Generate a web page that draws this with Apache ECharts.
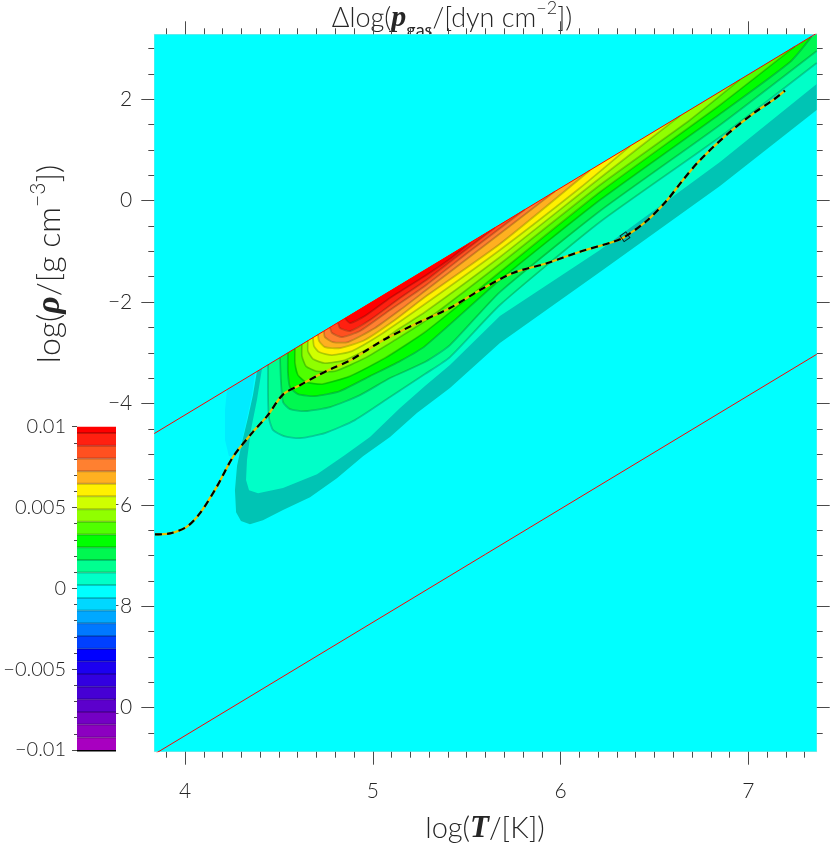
<!DOCTYPE html>
<html>
<head>
<meta charset="utf-8">
<script src="https://cdn.jsdelivr.net/npm/echarts@6/dist/echarts.min.js"></script>
<style>
html, body { margin: 0; padding: 0; background: #fff; }
#chart { width: 830px; height: 844px; }
</style>
</head>
<body>
<div id="chart"></div>
<script>
// frame of the plot, in log T and log rho
const tRange = [3.8365, 7.364]
const rhoRange = [-10.87, 3.283]
const tMajor = [4, 5, 6, 7]
const tMinor = [3.9, 4.0, 4.1, 4.2, 4.3, 4.4, 4.5, 4.6, 4.7, 4.8, 4.9, 5.0, 5.1, 5.2, 5.3, 5.4, 5.5, 5.6,
  5.7, 5.8, 5.9, 6.0, 6.1, 6.2, 6.3, 6.4, 6.5, 6.6, 6.7, 6.8, 6.9, 7.0, 7.1, 7.2, 7.3]
const rhoMajor = [-10, -8, -6, -4, -2, 0, 2]
const rhoMinor = [-10.5, -10, -9.5, -9, -8.5, -8, -7.5, -7, -6.5, -6, -5.5, -5, -4.5, -4, -3.5, -3,
  -2.5, -2, -1.5, -1, -0.5, 0, 0.5, 1, 1.5, 2, 2.5, 3]

// colour bar levels (bottom black strip first) and their colours
const cbLevels = [-0.0101, -0.01, -0.00922, -0.00843, -0.00765, -0.00686, -0.00608, -0.0053, -0.00451,
  -0.00373, -0.00294, -0.00216, -0.00137, -0.00059, 0.0002, 0.00098, 0.00176, 0.00255, 0.00333,
  0.00412, 0.0049, 0.00569, 0.00647, 0.00725, 0.00804, 0.00882, 0.00961, 0.01]
const cbColors = ['#000000', '#a800c0', '#8c00c0', '#7400c4', '#5c00cc', '#4600d4', '#3200e0', '#1c00f0',
  '#0000ff', '#0040ff', '#0078ff', '#00a8ff', '#00d8ff', '#00ffff', '#00ffc8', '#00ff90', '#00f850',
  '#00ff00', '#50ff00', '#90ff00', '#d0ff00', '#fff000', '#ffb020', '#ff8030', '#ff5020', '#ff2010', '#ff0000']

// the two red lines
const upperLine = [[3.8365, -4.593], [7.364, 3.304]]
const lowerLine = [[3.8365, -10.92], [7.364, -3.03]]

// the dashed track and its marked point
const trackT = [3.840, 3.920, 4.009, 4.080, 4.169, 4.256, 4.362, 4.435, 4.523, 4.612, 4.701, 4.788, 4.879,
  5.056, 5.234, 5.411, 5.571, 5.747, 5.926, 6.103, 6.281, 6.343, 6.458, 6.565, 6.650, 6.742, 6.884, 7.026, 7.133, 7.195]
const trackRho = [-6.584, -6.564, -6.434, -6.164, -5.645, -5.053, -4.560, -4.260, -3.820, -3.640, -3.460, -3.300, -3.150,
  -2.750, -2.420, -2.118, -1.763, -1.427, -1.235, -1.007, -0.809, -0.710, -0.400, 0.000, 0.400, 0.800, 1.300, 1.720, 1.990, 2.171]
const markPoint = [6.343, -0.710]

// filled contour regions of delta log p_gas, as [log T, log rho] outlines
const backgroundPath = [[3.8365, -10.87], [7.364, -10.87], [7.364, 3.283], [3.8365, 3.283]]
const lightBluePath = [[4.224, -3.726], [4.373, -3.393], [4.357, -3.835], [4.330, -4.289], [4.304, -4.723],
  [4.272, -5.019], [4.234, -5.039], [4.213, -4.723], [4.213, -4.131]]
const tealOuter = [[4.383, -3.369], [4.362, -3.835], [4.335, -4.289], [4.304, -4.762], [4.277, -5.236], [4.266, -5.710],
  [4.272, -6.144], [4.298, -6.321], [4.346, -6.381], [4.415, -6.302], [4.522, -6.104], [4.666, -5.848], [4.809, -5.473],
  [4.948, -5.039], [5.092, -4.664], [5.235, -4.190], [5.411, -3.697], [5.677, -2.808], [6.210, -1.407], [6.849, 0.290],
  [7.364, 1.790], [7.364, 3.283]]
const level13 = [[4.410, -3.309], [4.383, -3.933], [4.351, -4.525], [4.330, -5.118], [4.325, -5.512], [4.341, -5.710],
  [4.389, -5.769], [4.522, -5.670], [4.703, -5.394], [4.852, -5.019], [4.985, -4.664], [5.145, -4.091], [5.278, -3.657],
  [5.411, -3.243], [5.677, -2.276], [6.210, -0.973], [6.849, 0.764], [7.364, 2.303], [7.364, 3.283]]
const level14 = [[4.442, -3.237], [4.442, -3.835], [4.447, -4.289], [4.469, -4.525], [4.527, -4.644], [4.612, -4.683],
  [4.745, -4.585], [4.905, -4.328], [5.092, -3.874], [5.278, -3.420], [5.411, -3.085], [5.677, -2.058], [6.210, -0.420],
  [6.849, 1.257], [7.364, 2.718], [7.364, 3.283]]
const level15 = [[4.506, -3.095], [4.511, -3.578], [4.522, -3.973], [4.559, -4.111], [4.639, -4.150], [4.772, -4.072],
  [4.932, -3.835], [5.092, -3.499], [5.278, -3.183], [5.411, -2.848], [5.677, -1.802], [6.210, -0.203], [6.849, 1.494],
  [7.364, 2.954], [7.364, 3.283]]
const level16 = [[4.548, -3.000], [4.548, -3.381], [4.559, -3.677], [4.602, -3.815], [4.692, -3.854], [4.825, -3.756],
  [4.985, -3.460], [5.145, -3.164], [5.278, -2.868], [5.677, -1.565], [6.210, 0.014], [6.849, 1.711], [7.222, 2.737], [7.339, 3.248]]
const level17 = [[4.586, -2.915], [4.586, -3.203], [4.602, -3.440], [4.644, -3.578], [4.730, -3.618], [4.879, -3.460],
  [5.065, -3.104], [5.278, -2.591], [5.677, -1.407], [6.210, 0.172], [6.849, 1.889], [7.248, 3.044]]
const level18 = [[4.623, -2.832], [4.623, -3.065], [4.644, -3.262], [4.698, -3.361], [4.799, -3.361], [4.958, -3.104],
  [5.118, -2.749], [5.278, -2.374], [5.677, -1.249], [6.210, 0.310], [6.689, 1.593], [6.955, 2.388]]
const level19 = [[4.655, -2.761], [4.655, -2.966], [4.682, -3.124], [4.745, -3.203], [4.852, -3.144], [5.012, -2.848],
  [5.145, -2.512], [5.278, -2.197], [5.677, -1.111], [6.210, 0.448], [6.636, 1.674]]
const level20 = [[4.682, -2.702], [4.687, -2.868], [4.714, -2.986], [4.783, -3.045], [4.889, -2.966], [5.038, -2.651],
  [5.278, -2.039], [5.677, -0.973], [6.103, 0.251], [6.370, 1.078]]
const level21 = [[4.708, -2.641], [4.714, -2.769], [4.745, -2.887], [4.825, -2.907], [4.958, -2.749], [5.118, -2.354],
  [5.278, -1.901], [5.677, -0.855], [6.157, 0.600]]
const level22 = [[4.740, -2.570], [4.745, -2.690], [4.788, -2.789], [4.868, -2.789], [5.012, -2.512], [5.145, -2.157],
  [5.278, -1.782], [5.571, -0.953], [5.970, 0.184]]
const level23 = [[4.772, -2.499], [4.783, -2.611], [4.836, -2.690], [4.932, -2.572], [5.092, -2.157], [5.278, -1.683],
  [5.518, -0.993], [5.810, -0.174]]
const level24 = [[4.815, -2.404], [4.825, -2.512], [4.879, -2.572], [4.985, -2.354], [5.145, -1.920], [5.278, -1.585],
  [5.438, -1.131], [5.651, -0.531]]
const level25 = [[4.852, -2.319], [4.879, -2.414], [4.958, -2.276], [5.092, -1.920], [5.278, -1.486], [5.411, -1.151], [5.518, -0.829]]

const regionPaths = [backgroundPath, lightBluePath, tealOuter, level13, level14, level15, level16, level17,
  level18, level19, level20, level21, level22, level23, level24, level25]
// colour bar slot of each region (background sits in the band around zero)
const regionBand = [13, -1, -1, 14, 15, 16, 17, 18, 19, 20, 21, 22, 23, 24, 25, 26]
const extraFill = { 1: '#00ecff', 2: '#00c4b4' }

const FONT = "Lato, 'DejaVu Sans', sans-serif"
const SERIF = "'Liberation Serif', serif"
const TXT = '#262626'
const LIGHT = 300
const minus = v => String(v).replace('-', '\u2212')

let chart = echarts.init(document.getElementById('chart'), null, { renderer: 'canvas' })

function regionFill(i) {
  return regionBand[i] >= 0 ? cbColors[regionBand[i]] : extraFill[i]
}

function renderRegion(params, api) {
  const i = params.dataIndex
  const path = regionPaths[i]
  const pts = path.map(p => api.coord(p))
  const children = [{
    type: 'polygon',
    z2: i,
    shape: { points: pts },
    style: { fill: regionFill(i), stroke: null }
  }]
  if (i >= 4) {
    let linePts = pts
    if (path[path.length - 1][0] >= tRange[1]) linePts = pts.slice(0, -1)
    children.push({
      type: 'polyline',
      z2: 100 + i,
      shape: { points: linePts, smooth: 0.2 },
      style: { stroke: 'rgba(0,0,0,0.2)', lineWidth: 1.8, fill: null }
    })
  }
  return { type: 'group', children }
}

function renderBand(params, api) {
  const i = params.dataIndex
  const lo = cbLevels[i], hi = cbLevels[i + 1]
  const p0 = api.coord([0, hi]), p1 = api.coord([1, lo])
  const children = [{
    type: 'rect',
    shape: { x: p0[0], y: p0[1], width: p1[0] - p0[0], height: p1[1] - p0[1] },
    style: { fill: cbColors[i] }
  }]
  if (i > 0 && i < cbColors.length - 1) {
    children.push({
      type: 'line',
      z2: 10,
      shape: { x1: p0[0], y1: p0[1], x2: p1[0], y2: p0[1] },
      style: { stroke: 'rgba(0,0,0,0.22)', lineWidth: 2 }
    })
  }
  return { type: 'group', children }
}

const gridRect = { left: 154.3, top: 34.3, width: 662.4, height: 717.4 }
const tickStyle = { color: '#4a4a4a', width: 1 }
const frameLine = { show: true, onZero: false, lineStyle: { color: '#d4d4d4' } }

function mainX(gridIndex, position, ticks, len, labels) {
  return {
    gridIndex, type: 'value', position, min: tRange[0], max: tRange[1],
    axisLine: gridIndex === 0 ? frameLine : { show: false, onZero: false },
    axisTick: { show: true, customValues: ticks, length: len, lineStyle: tickStyle },
    axisLabel: labels ? { customValues: tMajor, margin: 29, fontSize: 21, fontWeight: LIGHT, color: TXT, fontFamily: FONT } : { show: false },
    splitLine: { show: false }
  }
}

function mainY(gridIndex, position, ticks, len, labels) {
  return {
    gridIndex, type: 'value', position, min: rhoRange[0], max: rhoRange[1],
    axisLine: gridIndex === 0 ? frameLine : { show: false, onZero: false },
    axisTick: { show: true, customValues: ticks, length: len, lineStyle: tickStyle },
    axisLabel: labels ? { customValues: rhoMajor, margin: 22, fontSize: 21, fontWeight: LIGHT, color: TXT, fontFamily: FONT, formatter: minus } : { show: false },
    splitLine: { show: false }
  }
}

const trackData = trackT.map((t, i) => [t, trackRho[i]])

const option = {
  backgroundColor: '#fff',
  animation: false,
  grid: [
    gridRect,
    gridRect,
    { left: 77, top: 426.7, width: 39, height: 323.3 }
  ],
  xAxis: [
    mainX(0, 'bottom', tMajor, 13, true),
    mainX(0, 'top', tMajor, 13, false),
    mainX(1, 'bottom', tMinor, 6, false),
    mainX(1, 'top', tMinor, 6, false),
    { gridIndex: 2, type: 'value', min: 0, max: 1, show: false }
  ],
  yAxis: [
    mainY(0, 'left', rhoMajor, 13, true),
    mainY(0, 'right', rhoMajor, 13, false),
    mainY(1, 'left', rhoMinor, 6, false),
    mainY(1, 'right', rhoMinor, 6, false),
    {
      gridIndex: 2, type: 'value', position: 'left', min: -0.01, max: 0.01, interval: 0.005,
      axisLine: { show: false, onZero: false },
      axisTick: { show: true, length: 5, lineStyle: tickStyle },
      minorTick: { show: true, splitNumber: 5, length: 3, lineStyle: tickStyle },
      axisLabel: { margin: 11, fontSize: 20, fontWeight: LIGHT, color: TXT, fontFamily: FONT, formatter: minus },
      splitLine: { show: false },
      minorSplitLine: { show: false }
    }
  ],
  graphic: [
    {
      type: 'text', x: 452, y: 18, z: 0, zlevel: 0,
      style: {
        text: '\u0394log({p|p}{sub|gas}/[dyn cm{sup|\u22122}])',
        fontSize: 27, fontWeight: LIGHT, fontFamily: FONT, fill: TXT, align: 'center', verticalAlign: 'middle', lineHeight: 44,
        rich: {
          p: { fontFamily: SERIF, fontStyle: 'italic', fontWeight: 'bold', fontSize: 30, lineHeight: 44 },
          sub: { fontSize: 18, fontWeight: 'normal', verticalAlign: 'bottom', padding: [0, 0, 1, 0], fontFamily: FONT },
          sup: { fontSize: 18, fontWeight: LIGHT, verticalAlign: 'top', padding: [3, 0, 0, 0], fontFamily: FONT }
        }
      }
    },
    {
      type: 'text', x: 485, y: 829, z: 0,
      style: {
        text: 'log({i|T}/[K])',
        fontSize: 29, fontWeight: LIGHT, fontFamily: FONT, fill: TXT, align: 'center', verticalAlign: 'middle',
        rich: { i: { fontFamily: SERIF, fontStyle: 'italic', fontWeight: 'bold', fontSize: 31 } }
      }
    },
    {
      type: 'text', x: 50, y: 264, z: 0, rotation: Math.PI / 2,
      style: {
        text: 'log({i|\u03c1}/[g cm{sup|\u22123}])',
        fontSize: 32, fontWeight: LIGHT, fontFamily: FONT, fill: TXT, align: 'center', verticalAlign: 'middle', lineHeight: 48,
        rich: {
          i: { fontFamily: SERIF, fontStyle: 'italic', fontWeight: 'bold', fontSize: 34, lineHeight: 48 },
          sup: { fontSize: 21, fontWeight: LIGHT, verticalAlign: 'top', padding: [2, 0, 0, 0], fontFamily: FONT }
        }
      }
    }
  ],
  series: [
    {
      type: 'custom', name: 'dlogp', xAxisIndex: 0, yAxisIndex: 0, z: 2, silent: true, clip: true,
      renderItem: renderRegion,
      data: regionPaths.map((p, i) => [i, i])
    },
    {
      type: 'line', xAxisIndex: 0, yAxisIndex: 0, z: 3, silent: true, showSymbol: false,
      data: upperLine, lineStyle: { color: '#ff0000', width: 1 }
    },
    {
      type: 'line', xAxisIndex: 0, yAxisIndex: 0, z: 3, silent: true, showSymbol: false,
      data: lowerLine, lineStyle: { color: '#ff0000', width: 1 }
    },
    {
      type: 'line', xAxisIndex: 0, yAxisIndex: 0, z: 4, silent: true, showSymbol: false,
      smooth: 0.3, data: trackData,
      lineStyle: { color: '#e6c200', width: 2.2 }
    },
    {
      type: 'line', xAxisIndex: 0, yAxisIndex: 0, z: 4, silent: true, showSymbol: false,
      smooth: 0.3, data: trackData,
      lineStyle: { color: '#000', width: 2.2, type: [7, 5] }
    },
    {
      type: 'scatter', xAxisIndex: 0, yAxisIndex: 0, z: 5, silent: true,
      data: [markPoint], symbol: 'rect', symbolSize: 7, symbolRotate: 35,
      itemStyle: { color: 'rgba(0,0,0,0)', borderColor: '#000', borderWidth: 1 }
    },
    {
      type: 'custom', name: 'colorbar', xAxisIndex: 4, yAxisIndex: 4, z: 6, silent: true,
      renderItem: renderBand,
      data: cbColors.map((c, i) => [0.5, i])
    }
  ]
}

chart.setOption(option)
window.addEventListener('resize', () => chart.resize())
</script>
</body>
</html>
